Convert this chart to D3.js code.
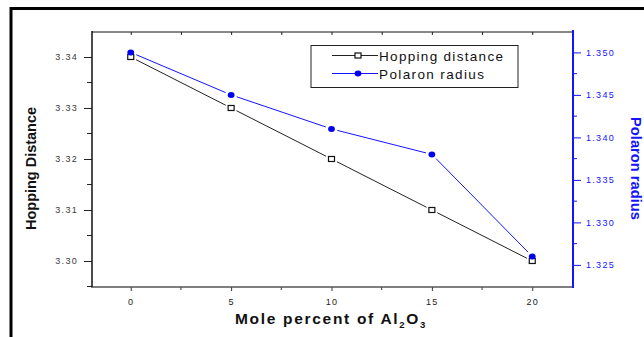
<!DOCTYPE html>
<html><head><meta charset="utf-8">
<script src="https://cdn.jsdelivr.net/npm/d3@7"></script>
<style>body{margin:0;background:#fff}svg{display:block}</style>
</head><body>
<script>
const molePercent = [0, 5, 10, 15, 20];
const hoppingDistance = [3.340, 3.330, 3.320, 3.310, 3.300];
const polaronRadius = [1.350, 1.345, 1.341, 1.338, 1.326];
const xTicks = [0, 5, 10, 15, 20];
const xMinor = [2.5, 7.5, 12.5, 17.5];
const leftTicks = [3.30, 3.31, 3.32, 3.33, 3.34];
const leftMinor = [3.295, 3.305, 3.315, 3.325, 3.335];
const rightTicks = [1.325, 1.330, 1.335, 1.340, 1.345, 1.350];
const rightMinor = [1.3275, 1.3325, 1.3375, 1.3425, 1.3475];

const W = 644, H = 337;
const L = 92, R = 573, T = 32, B = 287;
const blue = "#1414ff";

const svg = d3.select("body").append("svg").attr("width", W).attr("height", H);

// outer frame
svg.append("line").attr("x1", 10).attr("x2", W).attr("y1", 8.5).attr("y2", 8.5).attr("stroke", "#000").attr("stroke-width", 3);
svg.append("line").attr("x1", 11).attr("x2", 11).attr("y1", 7).attr("y2", H).attr("stroke", "#000").attr("stroke-width", 3);

const x = d3.scaleLinear().domain([-1.93, 22.03]).range([L, R]);
const yL = d3.scaleLinear().domain([3.2949, 3.3449]).range([B, T]);
const yR = d3.scaleLinear().domain([1.3224, 1.3524]).range([B, T]);

const tickFont = "Liberation Sans, Arial, sans-serif";

function styleAxis(g, color, textColor) {
  g.select(".domain").remove();
  g.selectAll("line").attr("stroke", color);
  g.selectAll("text").attr("fill", textColor).attr("font-family", tickFont)
    .attr("font-size", 9).attr("letter-spacing", "1.3px");
}

// bottom axis
const gB = svg.append("g").attr("transform", `translate(0,${B})`);
gB.call(d3.axisBottom(x).tickValues(xTicks).tickSize(4).tickPadding(8).tickFormat(d3.format("d")));
styleAxis(gB, "#333", "#222");
gB.append("g").selectAll("line").data(xMinor).join("line")
  .attr("x1", d => x(d)).attr("x2", d => x(d)).attr("y1", 0).attr("y2", 3).attr("stroke", "#333");
svg.append("line").attr("x1", L - 1).attr("x2", R).attr("y1", B).attr("y2", B).attr("stroke", "#555").attr("stroke-width", 1.5);

// top axis (ticks inward)
const gT = svg.append("g").attr("transform", `translate(0,${T})`);
gT.call(d3.axisTop(x).tickValues(xTicks.concat(xMinor)).tickSize(-3).tickFormat(""));
styleAxis(gT, "#222", "#222");
svg.append("line").attr("x1", L).attr("x2", R).attr("y1", T).attr("y2", T).attr("stroke", "#111").attr("stroke-width", 1);

// left axis
const gL = svg.append("g").attr("transform", `translate(${L},0)`);
gL.call(d3.axisLeft(yL).tickValues(leftTicks).tickSize(8).tickPadding(6).tickFormat(d3.format(".2f")));
styleAxis(gL, "#222", "#3a3a3a");
gL.append("g").selectAll("line").data(leftMinor).join("line")
  .attr("x1", -5).attr("x2", 0).attr("y1", d => yL(d)).attr("y2", d => yL(d)).attr("stroke", "#222");
svg.append("line").attr("x1", L).attr("x2", L).attr("y1", T - 1).attr("y2", B).attr("stroke", "#111").attr("stroke-width", 1.5);

// right axis (blue)
const gR = svg.append("g").attr("transform", `translate(${R},0)`);
gR.call(d3.axisRight(yR).tickValues(rightTicks).tickSize(8).tickPadding(5).tickFormat(d3.format(".3f")));
styleAxis(gR, blue, blue);
gR.append("g").selectAll("line").data(rightMinor).join("line")
  .attr("x1", 0).attr("x2", 4).attr("y1", d => yR(d)).attr("y2", d => yR(d)).attr("stroke", blue);
svg.append("line").attr("x1", R).attr("x2", R).attr("y1", T - 2).attr("y2", B + 1).attr("stroke", blue).attr("stroke-width", 2);

// lines with small gaps at markers
function gappedSegments(xs, ys, gap) {
  const segs = [];
  for (let i = 0; i < xs.length - 1; i++) {
    const x1 = xs[i], y1 = ys[i], x2 = xs[i + 1], y2 = ys[i + 1];
    const len = Math.hypot(x2 - x1, y2 - y1);
    const ux = (x2 - x1) / len, uy = (y2 - y1) / len;
    segs.push([x1 + ux * gap, y1 + uy * gap, x2 - ux * gap, y2 - uy * gap]);
  }
  return segs;
}
const hx = molePercent.map(d => x(d)), hy = hoppingDistance.map(d => yL(d));
const px = molePercent.map(d => x(d)), py = polaronRadius.map(d => yR(d));

svg.append("g").selectAll("line").data(gappedSegments(hx, hy, 6)).join("line")
  .attr("x1", d => d[0]).attr("y1", d => d[1]).attr("x2", d => d[2]).attr("y2", d => d[3])
  .attr("stroke", "#222").attr("stroke-width", 1);
svg.append("g").selectAll("line").data(gappedSegments(px, py, 6)).join("line")
  .attr("x1", d => d[0]).attr("y1", d => d[1]).attr("x2", d => d[2]).attr("y2", d => d[3])
  .attr("stroke", blue).attr("stroke-width", 1);

svg.append("g").selectAll("rect").data(molePercent).join("rect")
  .attr("x", (d) => x(d) - 3).attr("y", (d, i) => yL(hoppingDistance[i]) - 2.5)
  .attr("width", 6).attr("height", 5).attr("fill", "#fff").attr("stroke", "#111").attr("stroke-width", 1.2);
svg.append("g").selectAll("ellipse").data(molePercent).join("ellipse")
  .attr("cx", d => x(d)).attr("cy", (d, i) => yR(polaronRadius[i]))
  .attr("rx", 3.4).attr("ry", 3).attr("fill", "#0000f0");

// legend
const lg = svg.append("g");
lg.append("rect").attr("x", 311).attr("y", 45.5).attr("width", 207).attr("height", 42)
  .attr("fill", "#fff").attr("stroke", "#222").attr("stroke-width", 1);
lg.append("line").attr("x1", 332).attr("x2", 378).attr("y1", 55.5).attr("y2", 55.5).attr("stroke", "#222");
lg.append("rect").attr("x", 355).attr("y", 53).attr("width", 6).attr("height", 5).attr("fill", "#fff").attr("stroke", "#111").attr("stroke-width", 1.2);
lg.append("text").attr("x", 379).attr("y", 60.5).text("Hopping distance")
  .attr("font-family", tickFont).attr("font-size", 13.5).attr("textLength", 124).attr("lengthAdjust", "spacing").attr("fill", "#111");
lg.append("line").attr("x1", 332).attr("x2", 378).attr("y1", 73.5).attr("y2", 73.5).attr("stroke", blue);
lg.append("ellipse").attr("cx", 358).attr("cy", 73.5).attr("rx", 3.4).attr("ry", 3).attr("fill", "#0000f0");
lg.append("text").attr("x", 379).attr("y", 78.5).text("Polaron radius")
  .attr("font-family", tickFont).attr("font-size", 13.5).attr("textLength", 105).attr("lengthAdjust", "spacing").attr("fill", "#111");

// axis titles
svg.append("text").attr("transform", "translate(36,168.5) rotate(-90)")
  .attr("text-anchor", "middle").attr("font-family", tickFont).attr("font-weight", "bold")
  .attr("font-size", 15).attr("textLength", 123).attr("lengthAdjust", "spacingAndGlyphs")
  .attr("fill", "#111").text("Hopping Distance");
svg.append("text").attr("transform", "translate(631,168.5) rotate(90)")
  .attr("text-anchor", "middle").attr("font-family", tickFont).attr("font-weight", "bold")
  .attr("font-size", 15).attr("textLength", 103).attr("lengthAdjust", "spacingAndGlyphs")
  .attr("fill", blue).text("Polaron radius");
const xt = svg.append("text").attr("x", 331).attr("y", 324).attr("text-anchor", "middle")
  .attr("font-family", tickFont).attr("font-weight", "bold").attr("font-size", 15.5)
  .attr("letter-spacing", "1.7px").attr("fill", "#111");
xt.append("tspan").text("Mole percent of Al");
xt.append("tspan").attr("font-size", 9.5).attr("dy", 4).text("2");
xt.append("tspan").attr("dy", -4).text("O");
xt.append("tspan").attr("font-size", 9.5).attr("dy", 4).text("3");
</script>
</body></html>
